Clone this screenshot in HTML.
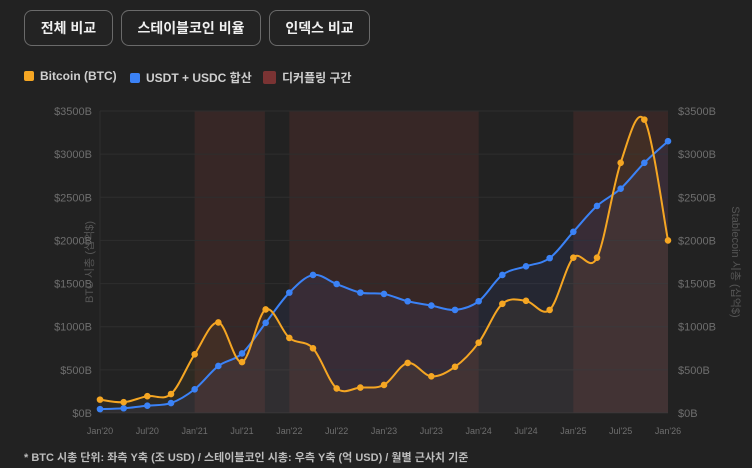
<!DOCTYPE html>
<html><head><meta charset="utf-8"><style>
body{margin:0;background:#222222;width:752px;height:468px;overflow:hidden;font-family:"Liberation Sans","Noto Sans CJK KR",sans-serif;}
.btn{position:absolute;top:10px;height:36px;border:1px solid #6a6a6a;border-radius:8px;color:#f0f0f0;font-size:14px;font-weight:bold;display:flex;align-items:center;justify-content:center;box-sizing:border-box;background:#232323}
.leg{position:absolute;top:69px;font-size:12px;color:#cfcfcf;display:flex;align-items:center;font-weight:bold}
.sw{width:10px;height:10px;border-radius:2px;margin-right:6px;display:inline-block}
.note{position:absolute;left:24px;top:449px;font-size:11px;color:#bdbdbd;font-weight:bold}
</style></head><body>
<div class="btn" style="left:24px;width:89px">전체 비교</div>
<div class="btn" style="left:121px;width:140px">스테이블코인 비율</div>
<div class="btn" style="left:269px;width:101px">인덱스 비교</div>
<div class="leg" style="left:24px"><span class="sw" style="background:#f5a623"></span>Bitcoin (BTC)</div>
<div class="leg" style="left:130px"><span class="sw" style="background:#3b82f6"></span>USDT + USDC 합산</div>
<div class="leg" style="left:263px"><span class="sw" style="background:#7a3333;width:13px;height:13px"></span>디커플링 구간</div>
<svg id="chart" width="752" height="468" style="position:absolute;left:0;top:0"></svg>
<div class="note">* BTC 시총 단위: 좌측 Y축 (조 USD) / 스테이블코인 시총: 우측 Y축 (억 USD) / 월별 근사치 기준</div>
<script>
const months=[0,3,6,9,12,15,18,21,24,27,30,33,36,39,42,45,48,51,54,57,60,63,66,69,72];
const btc=[155,125,195,220,680,1050,590,1200,870,750,285,295,325,580,425,535,815,1265,1300,1195,1800,1800,2900,3400,2000];
const stable=[45,55,85,115,275,545,690,1045,1395,1600,1495,1395,1380,1295,1245,1195,1295,1600,1700,1795,2100,2400,2600,2900,3150];
const yTicks=[0,500,1000,1500,2000,2500,3000,3500];
const xTickMonths=[0,6,12,18,24,30,36,42,48,54,60,66,72];
const xTickLabels=["Jan'20","Jul'20","Jan'21","Jul'21","Jan'22","Jul'22","Jan'23","Jul'23","Jan'24","Jul'24","Jan'25","Jul'25","Jan'26"];
const bands=[[12,20.9],[24,48],[60,72]];
const NS='http://www.w3.org/2000/svg',svg=document.getElementById('chart');
const X0=100,X1=668,Y0=413,Y1=111;
const x=m=>X0+(m/72)*(X1-X0), y=v=>Y0-(v/3500)*(Y0-Y1);
function mk(t,a,p){const e=document.createElementNS(NS,t);for(const k in a)e.setAttribute(k,a[k]);(p||svg).appendChild(e);return e;}
for(const b of bands){const r=mk('rect',{x:x(b[0]),y:Y1,width:x(b[1])-x(b[0]),height:Y0-Y1,fill:'rgba(130,60,55,0.22)'});

}
yTicks.forEach(v=>{mk('line',{x1:X0,x2:X1,y1:y(v),y2:y(v),stroke:'#2e2e2e','stroke-width':1});
const t1=mk('text',{x:92,y:y(v)+4,'text-anchor':'end','font-size':11,fill:'#6e6e6e'});t1.textContent='$'+v+'B';


const t2=mk('text',{x:678,y:y(v)+4,'font-size':11,fill:'#6e6e6e'});t2.textContent='$'+v+'B';

});
mk('line',{x1:X0,x2:X0,y1:Y1,y2:Y0,stroke:'#2e2e2e'});
xTickMonths.forEach((m,i)=>{const t=mk('text',{x:x(m),y:434,'text-anchor':'middle','font-size':9,fill:'#6e6e6e'});t.textContent=xTickLabels[i];

});
const lt=mk('text',{transform:`translate(93,${(Y0+Y1)/2}) rotate(-90)`,'text-anchor':'middle','font-size':11,fill:'#555'});lt.textContent='BTC 시총 (십억$)';


const rt=mk('text',{transform:`translate(732,${(Y0+Y1)/2}) rotate(90)`,'text-anchor':'middle','font-size':11,fill:'#555'});rt.textContent='Stablecoin 시총 (십억$)';


function path(vals){const p=months.map((m,i)=>[x(m),y(vals[i])]);let d='M'+p[0][0]+','+p[0][1];
for(let i=0;i<p.length-1;i++){const p0=p[i-1]||p[i],p1=p[i],p2=p[i+1],p3=p[i+2]||p[i+1];const k=1/6;
d+=` C${p1[0]+(p2[0]-p0[0])*k},${p1[1]+(p2[1]-p0[1])*k} ${p2[0]-(p3[0]-p1[0])*k},${p2[1]-(p3[1]-p1[1])*k} ${p2[0]},${p2[1]}`;}return d;}
const a1=mk('path',{d:path(stable)+` L${x(72)},${Y0} L${x(0)},${Y0}Z`,fill:'rgba(70,90,200,0.10)'});


const a2=mk('path',{d:path(btc)+` L${x(72)},${Y0} L${x(0)},${Y0}Z`,fill:'rgba(245,166,35,0.06)'});


[[stable,'#3b82f6','stablecoin'],[btc,'#f5a623','btc']].forEach(([vals,c,n])=>{
const l=mk('path',{d:path(vals),fill:'none',stroke:c,'stroke-width':2});


months.forEach((m,i)=>{const pt=mk('circle',{cx:x(m),cy:y(vals[i]),r:2.8,fill:c,stroke:c});

});});
</script>
</body></html>
